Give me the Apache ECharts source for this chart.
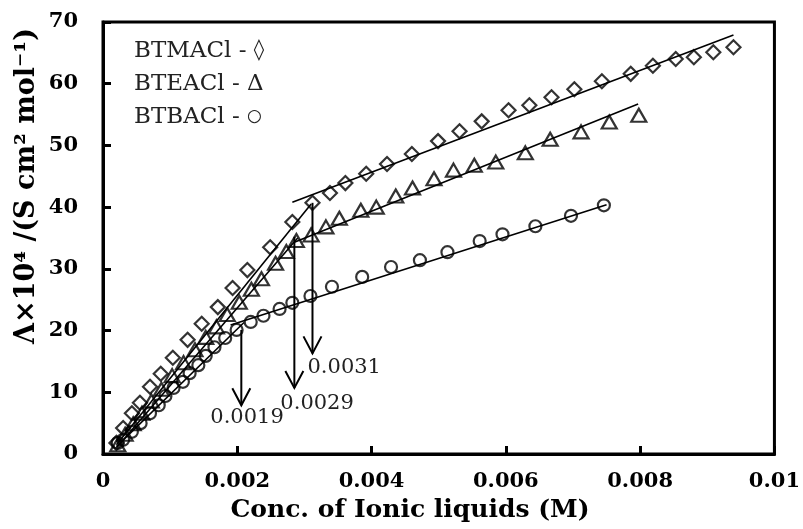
<!DOCTYPE html>
<html>
<head>
<meta charset="utf-8">
<script src="https://cdn.jsdelivr.net/npm/echarts@6/dist/echarts.min.js"></script>
<style>
  html, body { margin: 0; padding: 0; background: #fff; }
  #chart { width: 803px; height: 529px; }
</style>
</head>
<body>
<div id="chart"></div>
<script>
// concentration (M) and molar conductivity (Λ×10^4) for each ionic liquid
const btmaConc = [0.0002, 0.0003, 0.00043, 0.00055, 0.0007, 0.00086, 0.00104, 0.00126, 0.00147, 0.00171, 0.00193, 0.00215, 0.00249, 0.00282, 0.00312, 0.00338, 0.00361, 0.00392, 0.00423, 0.0046, 0.00499, 0.00531, 0.00564, 0.00604, 0.00635, 0.00668, 0.00702, 0.00743, 0.00786, 0.00819, 0.00853, 0.0088, 0.00909, 0.00939];
const btmaCond = [1.8, 4.2, 6.6, 8.3, 10.9, 13.0, 15.6, 18.5, 21.1, 23.8, 26.9, 29.8, 33.5, 37.6, 40.7, 42.3, 43.9, 45.4, 47.0, 48.6, 50.7, 52.3, 53.9, 55.7, 56.5, 57.8, 59.1, 60.4, 61.6, 62.9, 64.0, 64.3, 65.1, 65.9];

const bteaConc = [0.00022, 0.00033, 0.00045, 0.00058, 0.00072, 0.00087, 0.00103, 0.0012, 0.00137, 0.00153, 0.00169, 0.00185, 0.00203, 0.00221, 0.00236, 0.00257, 0.00273, 0.00288, 0.0031, 0.00332, 0.00352, 0.00384, 0.00407, 0.00436, 0.00461, 0.00493, 0.00522, 0.00553, 0.00585, 0.00629, 0.00666, 0.00712, 0.00754, 0.00798];
const bteaCond = [1.5, 3.2, 4.9, 6.6, 8.6, 10.5, 12.7, 14.8, 16.9, 18.9, 20.6, 22.6, 24.6, 26.7, 28.4, 30.9, 32.8, 34.6, 35.5, 36.8, 38.2, 39.5, 40.0, 41.8, 43.1, 44.6, 46.0, 46.8, 47.3, 48.8, 51.0, 52.2, 53.8, 54.9];

const btbaConc = [0.00022, 0.0003, 0.00043, 0.00056, 0.0007, 0.00083, 0.00093, 0.00105, 0.00119, 0.00129, 0.00142, 0.00153, 0.00166, 0.00182, 0.00199, 0.0022, 0.00239, 0.00263, 0.00282, 0.00309, 0.00341, 0.00386, 0.00429, 0.00472, 0.00513, 0.00561, 0.00595, 0.00644, 0.00697, 0.00746];
const btbaCond = [1.8, 2.3, 3.6, 5.0, 6.6, 7.9, 9.4, 10.7, 11.7, 13.1, 14.4, 15.9, 17.3, 18.8, 20.1, 21.4, 22.4, 23.5, 24.5, 25.6, 27.1, 28.7, 30.3, 31.4, 32.7, 34.5, 35.6, 36.9, 38.6, 40.3];

const seriesNames = ['BTMACl', 'BTEACl', 'BTBACl'];
const legendGlyphs = ['\u25CA', '\u0394', '\u25CB'];

// linear fits below and above the break: [c1, Λ1, c2, Λ2]
const lowFits = [[0.0002, 1.5, 0.0031, 40.5], [0.0002, 1.0, 0.0029, 35.0], [0.0002, 1.2, 0.0021, 21.3]];
const highFits = [[0.00282, 40.8, 0.00939, 67.9], [0.00285, 34.3, 0.00797, 56.7], [0.0019, 20.9, 0.0075, 40.4]];

// break (critical) concentrations marked with arrows
const breakLabels = ['0.0019', '0.0029', '0.0031'];
const arrowConc = [0.00206, 0.00285, 0.00312];
const arrowFrom = [20.1, 35.2, 40.7];
const arrowTo = [7.9, 10.7, 16.3];

const xTickLabels = ['0', '0.002', '0.004', '0.006', '0.008', '0.01'];

const FONT = 'DejaVu Serif';
const labelOffsets = [[-31, 2], [-14, 5], [-5, 4]];
const glyphSizes = [21, 23, 17];

const chart = echarts.init(document.getElementById('chart'));

const zip = (xs, ys) => xs.map((x, i) => [x, ys[i]]);

const markerStyles = [
  { symbol: 'diamond', symbolSize: 14 },
  { symbol: 'triangle', symbolSize: [15, 13] },
  { symbol: 'circle', symbolSize: 12 },
];
const seriesData = [zip(btmaConc, btmaCond), zip(bteaConc, bteaCond), zip(btbaConc, btbaCond)];

const scatterSeries = seriesNames.map((name, i) => ({
  name: name,
  type: 'scatter',
  symbol: markerStyles[i].symbol,
  symbolSize: markerStyles[i].symbolSize,
  itemStyle: { color: 'rgba(0,0,0,0)', borderColor: '#000', borderWidth: 2.2 },
  data: seriesData[i],
  z: 3,
}));

const fitSeries = [];
[lowFits, highFits].forEach((fits) => {
  fits.forEach((f) => {
    fitSeries.push({
      type: 'line',
      data: [[f[0], f[1]], [f[2], f[3]]],
      showSymbol: false,
      silent: true,
      lineStyle: { color: '#000', width: 1.6 },
      z: 2,
    });
  });
});

const arrowSeries = {
  type: 'custom',
  silent: true,
  data: arrowConc.map((c, i) => [c, arrowFrom[i], arrowTo[i], i]),
  renderItem: (params, api) => {
    const i = api.value(3);
    const top = api.coord([api.value(0), api.value(1)]);
    const tip = api.coord([api.value(0), api.value(2)]);
    const off = labelOffsets[i];
    return {
      type: 'group',
      children: [
        {
          type: 'line',
          shape: { x1: top[0], y1: top[1], x2: tip[0], y2: tip[1] },
          style: { stroke: '#000', lineWidth: 2 },
        },
        {
          type: 'polyline',
          shape: { points: [[tip[0] - 9, tip[1] - 17], [tip[0], tip[1]], [tip[0] + 9, tip[1] - 17]] },
          style: { stroke: '#000', fill: null, lineWidth: 2 },
        },
        {
          type: 'text',
          x: tip[0] + off[0],
          y: tip[1] + off[1],
          style: {
            text: breakLabels[i],
            fill: '#222',
            font: '21px "' + FONT + '"',
            textAlign: 'left',
            textVerticalAlign: 'top',
          },
        },
      ],
    };
  },
  z: 4,
};

const legendRich = { t: { fontFamily: FONT, fontSize: 23, color: '#222', lineHeight: 26 } };
glyphSizes.forEach((s, i) => {
  legendRich['g' + i] = { fontFamily: FONT, fontSize: s, color: '#222', lineHeight: 26 };
});

const option = {
  animation: false,
  backgroundColor: '#fff',
  grid: {
    left: 103, right: 26, top: 22, bottom: 75,
    show: true, borderColor: '#000', borderWidth: 3,
  },
  legend: {
    data: seriesNames,
    orient: 'vertical',
    left: 124,
    top: 33,
    icon: 'none',
    itemWidth: 0,
    itemHeight: 0,
    itemGap: 7,
    selectedMode: false,
    formatter: (name) => {
      const i = seriesNames.indexOf(name);
      return '{t|' + name + ' - }{g' + i + '|' + legendGlyphs[i] + '}';
    },
    textStyle: { fontFamily: FONT, fontSize: 23, color: '#222', lineHeight: 26, rich: legendRich },
  },
  xAxis: {
    type: 'value',
    min: 0,
    max: 0.01,
    interval: 0.002,
    splitLine: { show: false },
    axisLine: { lineStyle: { color: '#000', width: 3 } },
    axisTick: { inside: true, length: 8, lineStyle: { color: '#000', width: 3 } },
    axisLabel: {
      margin: 17,
      color: '#000',
      fontFamily: FONT,
      fontWeight: 'bold',
      fontSize: 21,
      formatter: (v) => xTickLabels[Math.round(v / 0.002)],
    },
  },
  yAxis: {
    type: 'value',
    min: 0,
    max: 70,
    interval: 10,
    splitLine: { show: false },
    axisLine: { lineStyle: { color: '#000', width: 3 } },
    axisTick: { inside: true, length: 8, lineStyle: { color: '#000', width: 3 } },
    axisLabel: {
      margin: 25,
      color: '#000',
      fontFamily: FONT,
      fontWeight: 'bold',
      fontSize: 21,
    },
  },
  graphic: [
    {
      type: 'text',
      x: 410,
      y: 510,
      style: {
        text: 'Conc. of Ionic liquids (M)',
        font: 'bold 25px "' + FONT + '"',
        fill: '#000',
        textAlign: 'center',
        textVerticalAlign: 'middle',
      },
    },
    {
      type: 'text',
      x: 27,
      y: 186,
      rotation: Math.PI / 2,
      style: {
        text: '\u039B\u00D710\u2074 /(S cm\u00B2 mol\u207B\u00B9)',
        font: 'bold 27px "' + FONT + '"',
        fill: '#000',
        textAlign: 'center',
        textVerticalAlign: 'middle',
      },
    },
  ],
  series: scatterSeries.concat(fitSeries, [arrowSeries]),
};

chart.setOption(option);
</script>
</body>
</html>
